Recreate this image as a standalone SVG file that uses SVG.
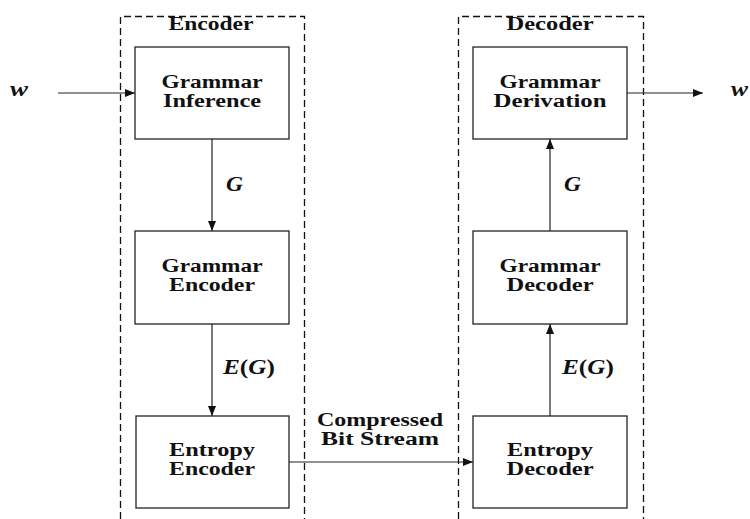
<svg xmlns="http://www.w3.org/2000/svg" width="750" height="519" viewBox="0 0 750 519">
  <style>
    .frame { fill: none; stroke: #111; stroke-width: 1.3; stroke-dasharray: 7 4; }
    .box { fill: #fff; stroke: #222; stroke-width: 1.3; }
    .edge { fill: none; stroke: #222; stroke-width: 1.2; marker-end: url(#arrow); }
    .lbl { font-family: "Liberation Serif", "Times New Roman", serif; font-weight: bold; font-size: 18px; fill: #111; text-anchor: middle; }
    .math { font-family: "Liberation Serif", "Times New Roman", serif; font-weight: bold; font-style: italic; font-size: 20px; fill: #111; }
    .up { font-style: normal; }
  </style>
  <defs>
    <marker id="arrow" viewBox="0 0 10 8" refX="10" refY="4" markerWidth="10" markerHeight="8" markerUnits="userSpaceOnUse" orient="auto">
      <path d="M0,0 L10,4 L0,8 Z" fill="#111"/>
    </marker>
  </defs>

  <!-- encoder / decoder frames -->
  <g id="encoder-frame">
    <polyline class="frame" points="120.5,519 120.5,16.5 304.5,16.5 304.5,519"/>
    <text class="lbl" x="211" y="30" textLength="85" lengthAdjust="spacingAndGlyphs">Encoder</text>
  </g>
  <g id="decoder-frame">
    <polyline class="frame" points="458.5,519 458.5,16.5 643.5,16.5 643.5,519"/>
    <text class="lbl" x="550" y="30" textLength="87" lengthAdjust="spacingAndGlyphs">Decoder</text>
  </g>

  <!-- connectors -->
  <g id="connectors">
    <line class="edge" x1="58" y1="93" x2="135" y2="93"/>
    <line class="edge" x1="212" y1="139" x2="212" y2="231"/>
    <line class="edge" x1="212" y1="324" x2="212" y2="416"/>
    <line class="edge" x1="289" y1="462" x2="473" y2="462"/>
    <line class="edge" x1="550" y1="416" x2="550" y2="324"/>
    <line class="edge" x1="550" y1="231" x2="550" y2="139"/>
    <line class="edge" x1="627" y1="93" x2="703" y2="93"/>
    <text class="math" x="10" y="96" textLength="18" lengthAdjust="spacingAndGlyphs">w</text>
    <text class="math" x="731" y="96" textLength="17" lengthAdjust="spacingAndGlyphs">w</text>
    <text class="math" x="226" y="191" textLength="17" lengthAdjust="spacingAndGlyphs">G</text>
    <text class="math" x="223" y="374" textLength="52" lengthAdjust="spacingAndGlyphs">E<tspan class="up">(</tspan>G<tspan class="up">)</tspan></text>
    <text class="math" x="564" y="191" textLength="17" lengthAdjust="spacingAndGlyphs">G</text>
    <text class="math" x="562" y="374" textLength="52" lengthAdjust="spacingAndGlyphs">E<tspan class="up">(</tspan>G<tspan class="up">)</tspan></text>
    <text class="lbl" x="380" y="426" textLength="126" lengthAdjust="spacingAndGlyphs">Compressed</text>
    <text class="lbl" x="380" y="445" textLength="118" lengthAdjust="spacingAndGlyphs">Bit Stream</text>
  </g>

  <!-- encoder blocks -->
  <g id="grammar-inference">
    <rect class="box" x="135" y="47" width="154" height="92"/>
    <text class="lbl" x="212" y="88" textLength="101" lengthAdjust="spacingAndGlyphs">Grammar</text>
    <text class="lbl" x="212" y="107" textLength="98" lengthAdjust="spacingAndGlyphs">Inference</text>
  </g>
  <g id="grammar-encoder">
    <rect class="box" x="135" y="231" width="154" height="93"/>
    <text class="lbl" x="212" y="272" textLength="101" lengthAdjust="spacingAndGlyphs">Grammar</text>
    <text class="lbl" x="212" y="291" textLength="86" lengthAdjust="spacingAndGlyphs">Encoder</text>
  </g>
  <g id="entropy-encoder">
    <rect class="box" x="136" y="416" width="153" height="92"/>
    <text class="lbl" x="212" y="456" textLength="86" lengthAdjust="spacingAndGlyphs">Entropy</text>
    <text class="lbl" x="212" y="475" textLength="86" lengthAdjust="spacingAndGlyphs">Encoder</text>
  </g>

  <!-- decoder blocks -->
  <g id="grammar-derivation">
    <rect class="box" x="473" y="47" width="154" height="92"/>
    <text class="lbl" x="550" y="88" textLength="101" lengthAdjust="spacingAndGlyphs">Grammar</text>
    <text class="lbl" x="550" y="107" textLength="113" lengthAdjust="spacingAndGlyphs">Derivation</text>
  </g>
  <g id="grammar-decoder">
    <rect class="box" x="473" y="231" width="154" height="93"/>
    <text class="lbl" x="550" y="272" textLength="101" lengthAdjust="spacingAndGlyphs">Grammar</text>
    <text class="lbl" x="550" y="291" textLength="87" lengthAdjust="spacingAndGlyphs">Decoder</text>
  </g>
  <g id="entropy-decoder">
    <rect class="box" x="473" y="416" width="154" height="92"/>
    <text class="lbl" x="550" y="456" textLength="86" lengthAdjust="spacingAndGlyphs">Entropy</text>
    <text class="lbl" x="550" y="475" textLength="87" lengthAdjust="spacingAndGlyphs">Decoder</text>
  </g>
</svg>
